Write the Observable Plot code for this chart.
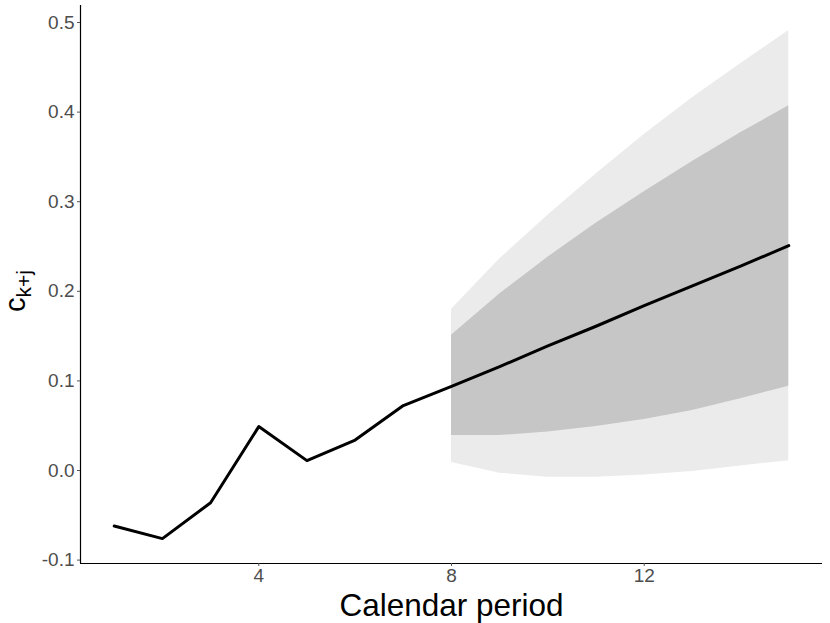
<!DOCTYPE html>
<html>
<head>
<meta charset="utf-8">
<script src="https://cdn.jsdelivr.net/npm/d3@7"></script>
<script src="https://cdn.jsdelivr.net/npm/@observablehq/plot@0.6"></script>
<style>
  html, body { margin: 0; padding: 0; background: #fff; }
  #chart { width: 830px; height: 623px; }
  svg { font-family: "Liberation Sans", Arial, sans-serif; }
</style>
</head>
<body>
<div id="chart"></div>
<script>
// Calendar periods
const periods = [1, 2, 3, 4, 5, 6, 7, 8, 9, 10, 11, 12, 13, 14, 15];
// c_{k+j}: observed (1..7) then forecast mean (8..15)
const cValues = [-0.062, -0.076, -0.036, 0.049, 0.011, 0.034, 0.0725, 0.094, 0.116, 0.139, 0.161, 0.184, 0.206, 0.228, 0.251];
// Forecast bands (periods 8..15)
const bandPeriods = [8, 9, 10, 11, 12, 13, 14, 15];
const outerLow  = [0.009, -0.003, -0.0075, -0.0075, -0.005, -0.001, 0.005, 0.011];
const outerHigh = [0.180, 0.236, 0.285, 0.331, 0.375, 0.416, 0.454, 0.491];
const innerLow  = [0.039, 0.039, 0.043, 0.049, 0.057, 0.067, 0.080, 0.094];
const innerHigh = [0.151, 0.197, 0.238, 0.276, 0.311, 0.345, 0.377, 0.407];
const xTicks = [4, 8, 12];
const yTicks = [-0.1, 0.0, 0.1, 0.2, 0.3, 0.4, 0.5];

const lineData = periods.map((p, i) => ({x: p, y: cValues[i]}));
const bandData = bandPeriods.map((p, i) => ({
  x: p, olo: outerLow[i], ohi: outerHigh[i], ilo: innerLow[i], ihi: innerHigh[i]
}));

const xDomain = [0.3, 15.7];
const yDomain = [-0.1038, 0.519];

const chart = Plot.plot({
  width: 830,
  height: 623,
  marginLeft: 80,
  marginRight: 8,
  marginTop: 5,
  marginBottom: 60,
  style: {fontFamily: "Liberation Sans, Arial, sans-serif", background: "#fff"},
  x: {domain: xDomain, label: null},
  y: {domain: yDomain, label: null},
  marks: [
    Plot.areaY(bandData, {x: "x", y1: "olo", y2: "ohi", fill: "#ebebeb"}),
    Plot.areaY(bandData, {x: "x", y1: "ilo", y2: "ihi", fill: "#c6c6c6"}),
    Plot.line(lineData, {x: "x", y: "y", stroke: "#000", strokeWidth: 3}),
    Plot.ruleX([xDomain[0]], {stroke: "#000", strokeWidth: 1.2}),
    Plot.ruleY([yDomain[0]], {stroke: "#000", strokeWidth: 1.2}),
    Plot.axisX(xTicks, {tickSize: 3, stroke: "#555", tickPadding: 2, fontSize: 19, fill: "#4d4d4d", label: null}),
    Plot.axisY(yTicks, {tickSize: 3, stroke: "#555", tickPadding: 3, fontSize: 19, fill: "#4d4d4d", tickFormat: d => d.toFixed(1), label: null}),
    Plot.text(["Calendar period"], {frameAnchor: "bottom", dy: 52, fontSize: 31.5, fill: "#000", lineAnchor: "bottom"})
  ]
});

const svg = d3.select(chart);
const t = svg.append("text")
  .attr("transform", "translate(25,291) rotate(-90)")
  .attr("text-anchor", "middle")
  .attr("fill", "#000")
  .style("font-family", "Liberation Sans, Arial, sans-serif");
t.append("tspan").attr("font-size", 29).text("c");
t.append("tspan").attr("font-size", 21).attr("dy", 6).text("k+j");

document.getElementById("chart").appendChild(chart);
</script>
</body>
</html>
